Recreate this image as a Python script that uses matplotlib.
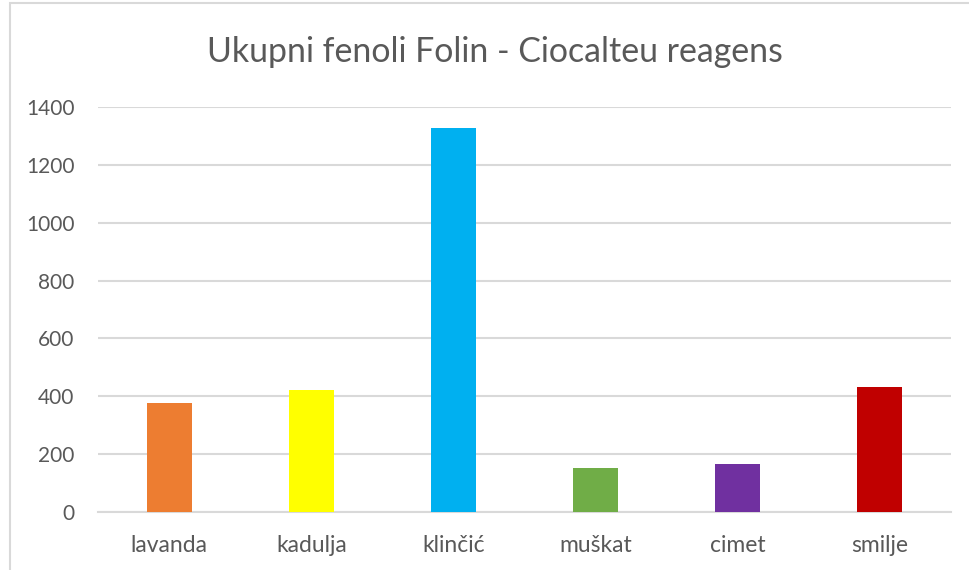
import matplotlib
matplotlib.use("Agg")
import matplotlib.pyplot as plt
from matplotlib.patches import Rectangle

# uzorci i izmjerene vrijednosti ukupnih fenola
categories = ["lavanda", "kadulja", "klinčić", "muškat", "cimet", "smilje"]
values = [377, 422, 1326, 153, 167, 432]
bar_colors = ["#ED7D31", "#FFFF00", "#00B0F0", "#70AD47", "#7030A0", "#C00000"]
yticks = [0, 200, 400, 600, 800, 1000, 1200, 1400]

text_color = "#595959"
grid_color = "#D9D9D9"

plt.rcParams["font.family"] = ["Lato", "DejaVu Sans"]

fig = plt.figure(figsize=(9.69, 5.70), dpi=100)
ax = fig.add_axes([98 / 969, 1 - 512.3 / 570, (951 - 98) / 969, (512.3 - 106.7) / 570])

x = list(range(len(categories)))
ax.bar(x, values, width=0.317, color=bar_colors, zorder=3)

ax.set_xlim(-0.5, len(categories) - 0.5)
ax.set_ylim(0, 1400)
ax.set_yticks(yticks)
ax.set_yticklabels([str(t) for t in yticks])
ax.set_xticks(x)
ax.set_xticklabels(categories)

ax.grid(axis="y", color=grid_color, linewidth=1.5, zorder=0)
for side in ["left", "right", "top"]:
    ax.spines[side].set_visible(False)
ax.spines["bottom"].set_color(grid_color)
ax.spines["bottom"].set_linewidth(1.5)
ax.tick_params(axis="both", length=0, colors=text_color)
ax.tick_params(axis="y", pad=17, labelsize=15)
ax.tick_params(axis="x", pad=16.5, labelsize=16.5)

fig.text(495 / 969, 1 - 52 / 570, "Ukupni fenoli Folin - Ciocalteu reagens",
         ha="center", va="center", fontsize=24.4, color=text_color)

# okvir grafikona
fig.patches.append(Rectangle((9.5 / 969, -0.1), 1.2, 1.1 - 3.5 / 570,
                             transform=fig.transFigure, fill=False,
                             edgecolor=grid_color, linewidth=1.5))

fig.savefig("out.png", dpi=100)
